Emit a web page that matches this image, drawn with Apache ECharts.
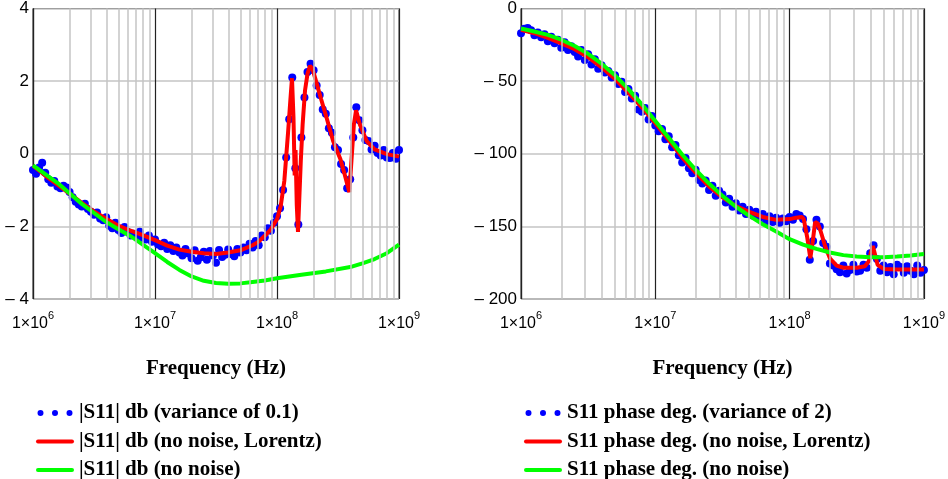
<!DOCTYPE html>
<html>
<head>
<meta charset="utf-8">
<script src="https://cdn.jsdelivr.net/npm/echarts@6/dist/echarts.min.js"></script>
<style>
  html, body { margin: 0; padding: 0; background: #fff; }
  #chart { width: 948px; height: 479px; }
</style>
</head>
<body>
<div id="chart"></div>
<script>
// Measurement sweep (MHz), shared by both noisy traces
const sweepMHz = [
  1, 1.059, 1.122, 1.189, 1.259, 1.334, 1.413, 1.496, 1.585, 1.679,
  1.778, 1.884, 1.995, 2.113, 2.239, 2.371, 2.512, 2.661, 2.818, 2.985,
  3.162, 3.350, 3.548, 3.758, 3.981, 4.217, 4.467, 4.732, 5.012, 5.309,
  5.623, 5.957, 6.310, 6.683, 7.079, 7.499, 7.943, 8.414, 8.913, 9.441,
  10, 10.59, 11.22, 11.89, 12.59, 13.34, 14.13, 14.96, 15.85, 16.79,
  17.78, 18.84, 19.95, 21.13, 22.39, 23.71, 25.12, 26.61, 28.18, 29.85,
  31.62, 33.50, 35.48, 37.58, 39.81, 42.17, 44.67, 47.32, 50.12, 53.09,
  56.23, 59.57, 63.10, 66.83, 70.79, 74.99, 79.43, 84.14, 89.13, 94.41,
  100, 105.9, 112.2, 118.9, 125.9, 133.4, 141.3, 149.6, 158.5, 167.9,
  177.8, 188.4, 199.5, 211.3, 223.9, 237.1, 251.2, 266.1, 281.8, 298.5,
  316.2, 335.0, 354.8, 375.8, 398.1, 421.7, 446.7, 473.2, 501.2, 530.9,
  562.3, 595.7, 631.0, 668.3, 707.9, 749.9, 794.3, 841.4, 891.3, 944.1,
  1000
];

// |S11| in dB with noise (variance 0.1)
const magNoisy = [
  -0.45, -0.55, -0.38, -0.25, -0.52, -0.70, -0.80, -0.75, -0.90, -0.95,
  -0.88, -0.93, -1.05, -1.20, -1.32, -1.40, -1.45, -1.38, -1.52, -1.60,
  -1.68, -1.62, -1.78, -1.83, -1.75, -1.98, -2.05, -1.90, -2.10, -2.18,
  -2.02, -2.15, -2.25, -2.20, -2.28, -2.15, -2.32, -2.36, -2.25, -2.42,
  -2.36, -2.50, -2.55, -2.45, -2.62, -2.52, -2.68, -2.58, -2.72, -2.80,
  -2.62, -2.75, -2.88, -2.66, -2.95, -2.85, -2.70, -2.92, -2.68, -2.80,
  -3.00, -2.65, -2.84, -2.78, -2.64, -2.76, -2.82, -2.62, -2.72, -2.58,
  -2.66, -2.48, -2.58, -2.40, -2.52, -2.25, -2.30, -2.05, -2.12, -1.90,
  -1.72, -1.50, -1.00, -0.10, 0.95, 2.10, -0.40, -1.95, 0.45, 1.55,
  2.25, 2.48, 2.30, 1.88, 1.62, 1.22, 1.10, 0.70, 0.58, 0.18,
  0.10, -0.28, -0.45, -0.95, -0.70, 0.45, 1.28, 0.92, 0.65, 0.38,
  0.35, 0.12, 0.22, 0.02, -0.05, 0.10, -0.10, -0.12, 0.02, -0.14,
  0.10
];

// |S11| in dB, Lorentz fit without noise
const magLorentzMHz = [
  1, 1.259, 1.585, 1.995, 2.512, 3.162, 3.981, 5.012, 6.31, 7.943,
  10, 12.59, 15.85, 19.95, 25.12, 31.62, 39.81, 50.12, 63.1, 70.79,
  79.43, 89.13, 100, 107.2, 114.8, 123.0, 128.8, 132.7, 136.5, 139.6,
  141.9, 145.2, 148.6, 152.1, 156.7, 162.2, 169.8, 177.8, 186.2, 195.0,
  208.9, 229.1, 257.0, 288.4, 331.1, 360.6, 391.7, 407.4, 426.6, 444.6,
  478.6, 543.3, 631, 794.3, 1000
];
const magLorentz = [
  -0.33, -0.60, -0.85, -1.10, -1.35, -1.59, -1.79, -1.98, -2.12, -2.24,
  -2.38, -2.53, -2.64, -2.70, -2.74, -2.76, -2.72, -2.66, -2.52, -2.42,
  -2.26, -2.08, -1.80, -1.45, -0.75, 0.55, 1.50, 2.08, 1.00, -0.60,
  0.10, -1.40, -2.15, -1.30, -0.20, 0.80, 1.75, 2.20, 2.42, 2.35,
  2.00, 1.52, 0.95, 0.35, -0.15, -0.60, -1.06, -0.20, 0.80, 1.20,
  0.80, 0.35, 0.12, -0.01, -0.08
];

// |S11| in dB without noise
const magCleanMHz = [
  1, 1.585, 2.512, 3.981, 5.012, 6.31, 7.943, 10, 12.59, 15.85,
  19.95, 25.12, 31.62, 39.81, 50.12, 63.1, 79.43, 100, 158.5, 251.2,
  398.1, 501.2, 631, 794.3, 1000
];
const magClean = [
  -0.32, -0.80, -1.38, -1.88, -2.08, -2.27, -2.50, -2.74, -2.98, -3.20,
  -3.38, -3.50, -3.56, -3.58, -3.57, -3.53, -3.49, -3.43, -3.33, -3.24,
  -3.12, -3.02, -2.90, -2.74, -2.50
];

// S11 phase in degrees with noise (variance 2)
const phaseNoisy = [
  -17.0, -14.0, -13.5, -15.0, -18.5, -16.5, -19.8, -17.8, -22.5, -19.5,
  -24.0, -21.5, -27.0, -23.2, -28.5, -26.0, -30.0, -33.0, -28.5, -35.5,
  -31.5, -38.5, -35.0, -41.5, -39.0, -44.0, -43.0, -47.5, -46.0, -52.0,
  -50.5, -57.5, -55.5, -62.0, -60.0, -69.5, -71.0, -68.5, -76.5, -74.0,
  -80.5, -84.5, -83.0, -90.0, -88.0, -95.5, -94.0, -101.0, -106.0, -103.0,
  -110.0, -113.5, -111.0, -118.0, -120.5, -118.5, -125.0, -122.0, -129.0, -125.5,
  -128.0, -133.5, -131.0, -136.5, -134.0, -139.0, -136.5, -141.5, -138.5, -142.5,
  -140.0, -144.0, -141.5, -146.5, -143.0, -147.0, -144.0, -147.5, -144.5, -146.5,
  -143.5, -145.5, -141.5, -142.5, -145.0, -152.0, -173.0, -160.0, -145.5, -150.0,
  -161.5, -164.0, -175.5, -177.0, -179.5, -181.5, -177.0, -182.5, -180.0, -176.5,
  -181.0, -180.5, -176.5, -178.5, -168.5, -163.0, -172.5, -180.5, -177.0, -181.5,
  -178.0, -183.0, -176.5, -178.0, -182.0, -177.5, -180.5, -183.0, -177.0, -182.0,
  -180.0
];

// S11 phase in degrees, Lorentz fit without noise
const phaseLorentzMHz = [
  1, 1.259, 1.585, 1.995, 2.512, 3.162, 3.981, 5.012, 6.31, 7.943,
  10, 12.59, 15.85, 19.95, 25.12, 31.62, 39.81, 50.12, 63.1, 79.43,
  100, 112.2, 123.0, 127.4, 134.9, 142.6, 147.9, 154.9, 162.2, 169.8,
  184.5, 199.5, 223.9, 251.2, 316.2, 363.1, 389.0, 402.7, 416.9, 431.5,
  451.9, 501.2, 631.0, 1000
];
const phaseLorentz = [
  -14.6, -17.0, -20.3, -24.0, -28.0, -33.5, -40.5, -48.5, -58.0, -68.0,
  -79.0, -90.5, -102.5, -113.0, -122.5, -130.0, -136.0, -140.0, -143.5, -145.5,
  -145.0, -144.0, -143.5, -145.0, -157.0, -172.0, -162.0, -147.0, -148.0, -153.0,
  -164.0, -172.0, -177.0, -178.5, -178.5, -177.5, -174.0, -168.0, -163.5, -169.0,
  -176.5, -179.3, -179.7, -179.7
];

// S11 phase in degrees without noise
const phaseCleanMHz = [
  1, 1.259, 1.585, 1.995, 2.512, 3.162, 3.981, 5.012, 6.31, 7.943,
  10, 12.59, 15.85, 19.95, 25.12, 31.62, 39.81, 50.12, 63.1, 79.43,
  100, 125.9, 158.5, 199.5, 251.2, 316.2, 398.1, 501.2, 631, 794.3,
  1000
];
const phaseClean = [
  -13.8, -15.8, -18.2, -21.5, -25.8, -31.2, -38.0, -46.0, -55.5, -66.0,
  -77.5, -89.0, -100.5, -111.0, -120.5, -129.0, -136.5, -142.8, -148.5, -153.5,
  -158.8, -162.5, -165.5, -168.0, -169.8, -170.8, -171.3, -171.3, -170.8, -170.0,
  -169.0
];

// Axis ranges and grid subdivisions
const freqRangeHz = [1e6, 1e9];
const decadeStartsHz = [1e6, 1e7, 1e8];
const minorMultipliers = [2, 3, 4, 5, 6, 7, 8, 9];
const magRange = [-4, 4, 2];        // min, max, step (dB)
const phaseRange = [-200, 0, 50];   // min, max, step (deg)

const legendMag = ['|S11| db (variance of 0.1)', '|S11| db (no noise, Lorentz)', '|S11| db (no noise)'];
const legendPhase = ['S11 phase deg. (variance of 2)', 'S11 phase deg. (no noise, Lorentz)', 'S11 phase deg. (no noise)'];

const BLUE = '#0000ff', RED = '#ff0000', GREEN = '#00ff00';
const SANS = 'Liberation Sans, Arial, sans-serif';
const SERIF = 'Liberation Serif, Times New Roman, serif';

const toPairs = (mhz, vals) => mhz.map((m, i) => [m * 1e6, vals[i]]);

const minorLines = [];
decadeStartsHz.forEach(d => minorMultipliers.forEach(k => minorLines.push({ xAxis: d * k })));

const dotsIcon = 'path://M0,3a3,3 0 1,0 6,0a3,3 0 1,0 -6,0zM14.5,3a3,3 0 1,0 6,0a3,3 0 1,0 -6,0zM29,3a3,3 0 1,0 6,0a3,3 0 1,0 -6,0z';
const barIcon = 'path://M2,0H36A2,2 0 0 1 36,4H2A2,2 0 0 1 2,0Z';

function xAxisFor(gridIndex) {
  return {
    type: 'log', logBase: 10, gridIndex,
    min: freqRangeHz[0], max: freqRangeHz[1],
    name: 'Frequency (Hz)', nameLocation: 'middle', nameGap: 59,
    nameTextStyle: { fontFamily: SERIF, fontWeight: 'bold', fontSize: 21, color: '#000' },
    axisLine: { show: false }, axisTick: { show: false },
    splitLine: { show: true, lineStyle: { color: '#222', width: 1.2 } },
    axisLabel: {
      margin: 11,
      showMinLabel: true, showMaxLabel: true,
      formatter: v => '{m|1×10}{e|' + Math.round(Math.log10(v)) + '}',
      rich: {
        m: { fontFamily: SANS, fontSize: 16, color: '#000', lineHeight: 22, verticalAlign: 'bottom' },
        e: { fontFamily: SANS, fontSize: 11, color: '#000', lineHeight: 12, verticalAlign: 'top' }
      }
    }
  };
}

function yAxisFor(gridIndex, range) {
  return {
    type: 'value', gridIndex,
    min: range[0], max: range[1], interval: range[2],
    axisLine: { show: false }, axisTick: { show: false },
    splitLine: { show: true, lineStyle: { color: '#c4c4c4', width: 1.5 } },
    axisLabel: {
      margin: 4, fontFamily: SANS, fontSize: 17, color: '#000',
      formatter: v => v < 0 ? '\u2013 ' + (-v) : String(v)
    }
  };
}

function seriesFor(idx, names, noisy, lorentz, clean) {
  return [
    {
      type: 'line', xAxisIndex: idx, yAxisIndex: idx, data: [], silent: true, z: 1,
      markLine: {
        silent: true, symbol: 'none', label: { show: false },
        lineStyle: { color: '#c4c4c4', width: 1.5, type: 'solid' },
        data: minorLines
      }
    },
    {
      name: names[0], type: 'scatter', xAxisIndex: idx, yAxisIndex: idx,
      data: noisy, symbol: 'circle', symbolSize: 8,
      itemStyle: { color: BLUE, opacity: 1 }, z: 2
    },
    {
      name: names[1], type: 'line', xAxisIndex: idx, yAxisIndex: idx,
      data: lorentz, showSymbol: false, lineStyle: { color: RED, width: 4 },
      itemStyle: { color: RED }, z: 3
    },
    {
      name: names[2], type: 'line', xAxisIndex: idx, yAxisIndex: idx,
      data: clean, showSymbol: false, lineStyle: { color: GREEN, width: 4 },
      itemStyle: { color: GREEN }, z: 4
    }
  ];
}

function legendFor(left, names) {
  return {
    type: 'plain', orient: 'vertical', left, top: 397, height: 120,
    itemWidth: 38, itemHeight: 6, itemGap: 6.5,
    selectedMode: false,
    textStyle: { fontFamily: SERIF, fontWeight: 'bold', fontSize: 21, color: '#000', lineHeight: 22 },
    data: [
      { name: names[0], icon: dotsIcon, itemStyle: { opacity: 1 } },
      { name: names[1], icon: barIcon },
      { name: names[2], icon: barIcon }
    ]
  };
}

const chart = echarts.init(document.getElementById('chart'), null, { renderer: 'canvas' });
chart.setOption({
  backgroundColor: '#fff',
  animation: false,
  grid: [
    { left: 33, top: 6, width: 366, height: 293, show: true, borderColor: '#333', borderWidth: 1, backgroundColor: 'transparent' },
    { left: 521, top: 6, width: 403, height: 293, show: true, borderColor: '#333', borderWidth: 1, backgroundColor: 'transparent' }
  ],
  xAxis: [xAxisFor(0), xAxisFor(1)],
  yAxis: [yAxisFor(0, magRange), yAxisFor(1, phaseRange)],
  legend: [legendFor(31, legendMag), legendFor(519, legendPhase)],
  series: [
    ...seriesFor(0, legendMag,
      toPairs(sweepMHz, magNoisy), toPairs(magLorentzMHz, magLorentz), toPairs(magCleanMHz, magClean)),
    ...seriesFor(1, legendPhase,
      toPairs(sweepMHz, phaseNoisy), toPairs(phaseLorentzMHz, phaseLorentz), toPairs(phaseCleanMHz, phaseClean))
  ]
});
</script>
</body>
</html>
